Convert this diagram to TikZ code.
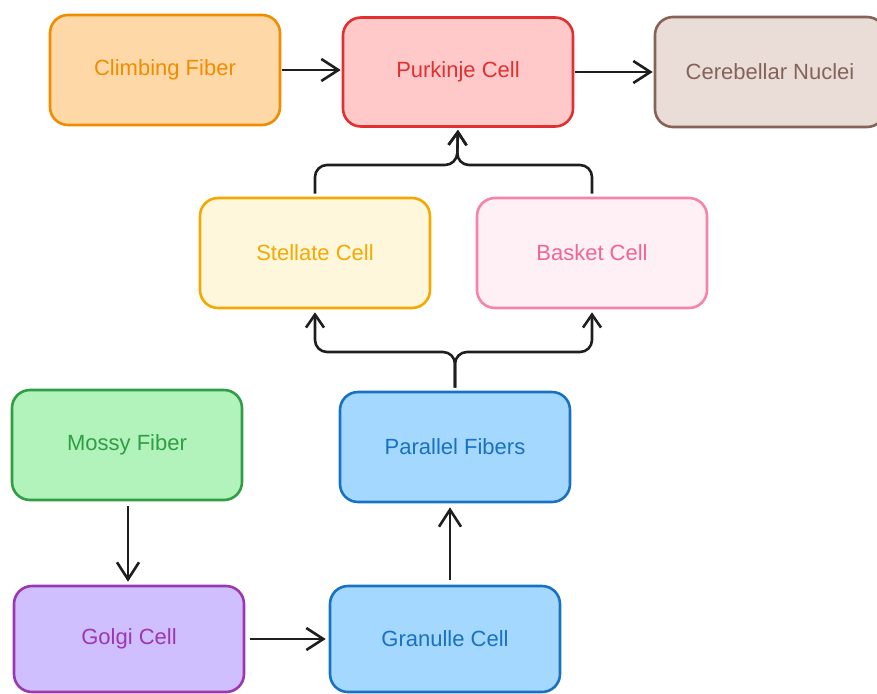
\documentclass[tikz,border=0pt]{standalone}
\usepackage{fontspec}
\setmainfont{Liberation Sans}
\usetikzlibrary{arrows.meta}
\definecolor{orS}{HTML}{F08C00}\definecolor{orF}{HTML}{FFD8A8}
\definecolor{rdS}{HTML}{E03131}\definecolor{rdF}{HTML}{FFC9C9}
\definecolor{brS}{HTML}{846358}\definecolor{brF}{HTML}{EADDD7}
\definecolor{ylS}{HTML}{F5A800}\definecolor{ylF}{HTML}{FFF7DB}
\definecolor{pkS}{HTML}{F783AC}\definecolor{pkF}{HTML}{FFF0F6}
\definecolor{pkT}{HTML}{F06595}
\definecolor{gnS}{HTML}{2F9E44}\definecolor{gnF}{HTML}{B2F2BB}
\definecolor{blS}{HTML}{1971C2}\definecolor{blF}{HTML}{A5D8FF}
\definecolor{puS}{HTML}{9C36B5}\definecolor{puF}{HTML}{D0BFFF}
\definecolor{ink}{HTML}{1E1E1E}
\tikzset{
  cell/.style n args={3}{draw=#1, fill=#2, text=#3, line width=2.6pt, rounded corners=18pt,
    minimum width=230pt, minimum height=110pt, font=\fontsize{22}{26}\selectfont, inner sep=0pt},
  arr/.style={draw=ink, line width=2.6pt, -{Straight Barb[length=17pt,width=22pt,line width=2.6pt]}},
  link/.style={arr, rounded corners=12pt, -{Straight Barb[length=13pt,width=18pt,line width=2.6pt]}}
}
\begin{document}
\begin{tikzpicture}[x=1pt,y=-1pt]
\useasboundingbox (0,0) rectangle (877,693);
\clip (0,0) rectangle (877,693);
\node[cell={orS}{orF}{orS}] (climb) at (165,70) {Climbing Fiber};
\node[cell={rdS}{rdF}{rdS}, minimum height=109pt] (purk) at (458,72) {Purkinje Cell};
\node[cell={brS}{brF}{brS}] (nuc) at (770,72) {Cerebellar Nuclei};
\node[cell={ylS}{ylF}{ylS}] (stel) at (315,253) {Stellate Cell};
\node[cell={pkS}{pkF}{pkT}] (bask) at (592,253) {Basket Cell};
\node[cell={gnS}{gnF}{gnS}] (mossy) at (127,445) {Mossy Fiber};
\node[cell={blS}{blF}{blS}] (par) at (455,447) {Parallel Fibers};
\node[cell={puS}{puF}{puS}, minimum height=106pt] (golgi) at (129,639) {Golgi Cell};
\node[cell={blS}{blF}{blS}, minimum height=106pt] (gran) at (445,639) {Granulle Cell};
\coordinate (j1) at (457,165);
\coordinate (j2) at (455,352);
\draw[arr, shorten <=1pt, shorten >=1pt] (climb.east) -- (climb.east -| purk.west);
\draw[arr, shorten <=1pt, shorten >=1pt] (purk.east) -- (nuc.west);
\draw[link, shorten <=3pt, shorten >=2pt] (stel.north) |- (j1) -- (purk.south);
\draw[link, shorten <=3pt, shorten >=2pt] (bask.north) |- (j1) -- (purk.south);
\draw[link, shorten <=3pt, shorten >=3pt] (par.north) -- (j2) -| (stel.south);
\draw[link, shorten <=3pt, shorten >=3pt] (par.north) -- (j2) -| (bask.south);
\draw[arr, shorten <=5pt, shorten >=3pt] (mossy.south -| 128,0) -- (golgi.north -| 128,0);
\draw[arr, shorten <=5pt, shorten >=3pt] (golgi.east) -- (gran.west);
\draw[arr, shorten <=5pt, shorten >=4pt] (gran.north -| 450,0) -- (par.south -| 450,0);
\end{tikzpicture}
\end{document}
